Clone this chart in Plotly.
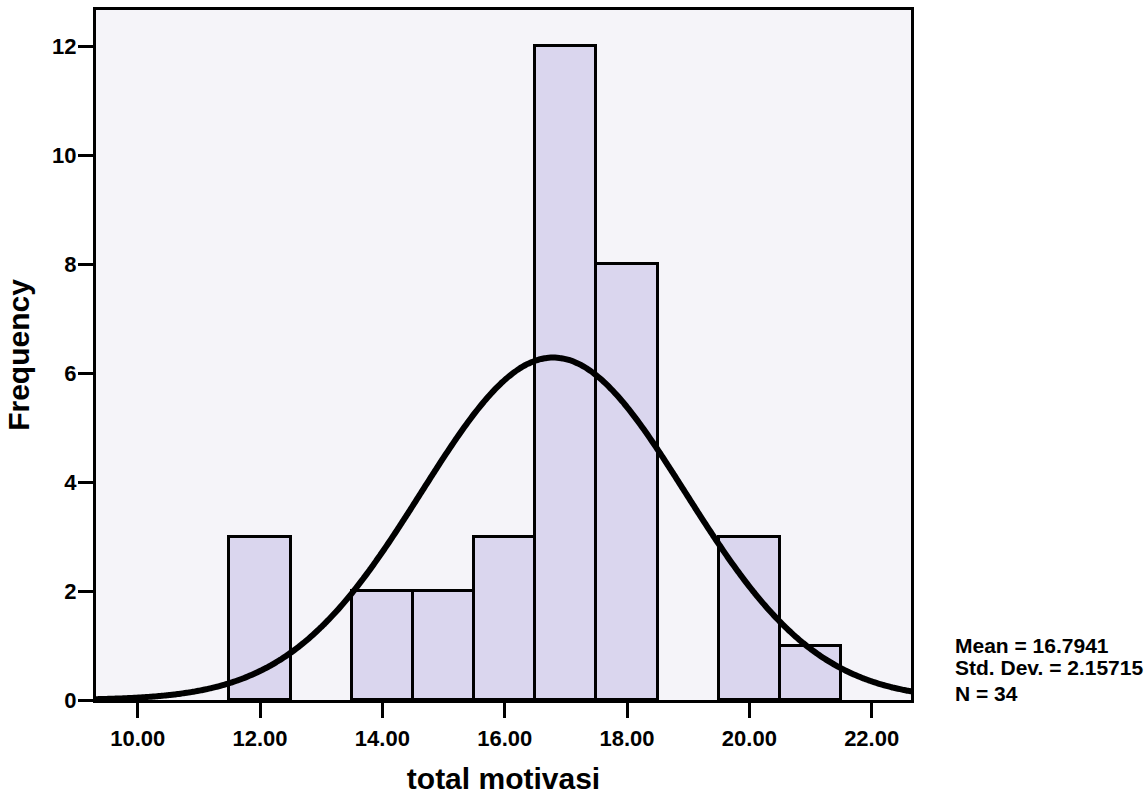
import numpy as np
import plotly.graph_objects as go

# Data
bin_centers = [12, 14, 15, 16, 17, 18, 20, 21]
frequencies = [3, 2, 2, 3, 12, 8, 3, 1]
bin_width = 1.0
mean_val = 16.7941
std_val = 2.15715
n_val = 34
x_ticks = [10, 12, 14, 16, 18, 20, 22]
x_tick_labels = ["10.00", "12.00", "14.00", "16.00", "18.00", "20.00", "22.00"]
y_ticks = [0, 2, 4, 6, 8, 10, 12]

x_range = [9.318, 22.643]
y_range = [0, 12.67]

# Normal curve scaled to counts
xs = np.linspace(x_range[0] - 0.2, x_range[1] + 0.2, 400)
ys = n_val * bin_width / (std_val * np.sqrt(2 * np.pi)) * np.exp(-0.5 * ((xs - mean_val) / std_val) ** 2)

font_family = "Liberation Sans, Arial, sans-serif"

fig = go.Figure()
fig.add_trace(go.Bar(
    x=bin_centers, y=frequencies, width=bin_width,
    marker=dict(color="#dad6ee", line=dict(color="black", width=3)),
    showlegend=False,
))
fig.add_trace(go.Scatter(
    x=xs, y=ys, mode="lines",
    line=dict(color="black", width=6, shape="spline"),
    showlegend=False, cliponaxis=True,
))

fig.update_layout(
    width=1147, height=795,
    margin=dict(l=96, r=236, t=10, b=95),
    paper_bgcolor="white",
    plot_bgcolor="#f5f4f9",
    font=dict(family=font_family, color="black"),
    bargap=0,
    xaxis=dict(
        range=x_range, tickvals=x_ticks, ticktext=x_tick_labels,
        ticks="outside", ticklen=15, tickwidth=3, tickcolor="black",
        showline=True, linecolor="black", linewidth=3, mirror=True,
        showgrid=False, zeroline=False, automargin=False,
        tickfont=dict(size=22, family=font_family, weight="bold"),
        ticklabelstandoff=2,
        title=dict(text="<b>total motivasi</b>", font=dict(size=30), standoff=20),
    ),
    yaxis=dict(
        range=y_range, tickvals=y_ticks,
        ticks="outside", ticklen=15, tickwidth=3, tickcolor="black",
        showline=True, linecolor="black", linewidth=3, mirror=True,
        showgrid=False, zeroline=False, automargin=False,
        tickfont=dict(size=22, family=font_family, weight="bold"),
        ticklabelstandoff=-3,
        title=dict(text="<b>Frequency</b>", font=dict(size=30), standoff=14),
    ),
)

stats = [
    (f"Mean = {mean_val}", 0.0797),
    (f"Std. Dev. = {std_val}", 0.0464),
    (f"N = {n_val}", 0.0101),
]
for txt, yy in stats:
    fig.add_annotation(
        text=f"<b>{txt}</b>", xref="paper", yref="paper",
        x=1.0515, y=yy, xanchor="left", yanchor="middle",
        showarrow=False, font=dict(size=21, family=font_family, color="black"),
    )

fig.write_html("out.html")
